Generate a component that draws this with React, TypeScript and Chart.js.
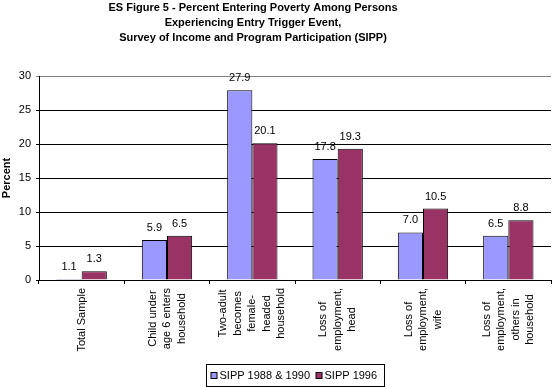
import { useEffect, useRef } from "react";
import { Chart, registerables } from "chart.js";

Chart.register(...registerables);

const titleLines = [
  "ES Figure 5 - Percent Entering Poverty Among Persons",
  "Experiencing Entry Trigger Event,",
  "Survey of Income and Program Participation (SIPP)",
];
const categories: string[][] = [
  ["Total Sample"],
  ["Child under", "age 6 enters", "household"],
  ["Two-adult", "becomes", "female-", "headed", "household"],
  ["Loss of", "employment,", "head"],
  ["Loss of", "employment,", "wife"],
  ["Loss of", "employment,", "others in", "household"],
];
const seriesNames = ["SIPP 1988 & 1990", "SIPP 1996"];
const sipp8890 = [0.15, 5.9, 27.9, 17.8, 7.0, 6.5];
const sipp1996 = [1.3, 6.5, 20.1, 19.3, 10.5, 8.8];
const labels8890 = ["1.1", "5.9", "27.9", "17.8", "7.0", "6.5"];
const labels1996 = ["1.3", "6.5", "20.1", "19.3", "10.5", "8.8"];
const yAxisTitle = "Percent";
const yMin = 0;
const yMax = 30;
const yStep = 5;

const FONT = '"Liberation Sans", Arial, sans-serif';
const colors = ["#9999FF", "#993366"];

const overlayPlugin = {
  id: "overlay",
  afterDraw(chart: any) {
    const ctx = chart.ctx;
    const area = chart.chartArea;
    ctx.save();
    ctx.fillStyle = "#000";
    // title
    ctx.font = `bold 11px ${FONT}`;
    ctx.textAlign = "center";
    ctx.textBaseline = "middle";
    titleLines.forEach((t, i) => ctx.fillText(t, 253, 8 + i * 15));

    // data labels
    ctx.font = `11px ${FONT}`;
    const allLabels = [labels8890, labels1996];
    chart.data.datasets.forEach((_: any, di: number) => {
      const meta = chart.getDatasetMeta(di);
      meta.data.forEach((el: any, i: number) => {
        ctx.fillText(allLabels[di][i], el.x, el.y - 12);
      });
    });

    // x category labels (rotated, centred)
    const xs = chart.scales.x;
    const lh = 14.5;
    categories.forEach((lines, i) => {
      const px = xs.getPixelForValue(i);
      const maxW = Math.max(...lines.map((l) => ctx.measureText(l).width));
      const cy = xs.top + 8 + maxW / 2;
      lines.forEach((l, j) => {
        const cx = px + (j - (lines.length - 1) / 2) * lh;
        ctx.save();
        ctx.translate(cx, cy);
        ctx.rotate(-Math.PI / 2);
        ctx.fillText(l, 0, 0);
        ctx.restore();
      });
    });

    // legend
    const w1 = ctx.measureText(seriesNames[0]).width;
    const w2 = ctx.measureText(seriesNames[1]).width;
    const total = 5 + 6 + 2 + w1 + 6 + 6 + 3 + w2 + 7;
    const lx = Math.round((area.left + area.right) / 2 - total / 2) + 0.5;
    const ly = 364.5;
    const lhgt = 22;
    ctx.strokeStyle = "#000";
    ctx.lineWidth = 1;
    ctx.strokeRect(lx, ly, Math.round(total), lhgt);
    const cyL = ly + lhgt / 2;
    let x = lx + 4.5;
    [0, 1].forEach((k) => {
      ctx.fillStyle = colors[k];
      ctx.fillRect(x, cyL - 3, 6, 6);
      ctx.strokeStyle = "#000";
      ctx.strokeRect(x, cyL - 3, 6, 6);
      x += 8.5;
      ctx.fillStyle = "#000";
      ctx.textAlign = "left";
      ctx.fillText(seriesNames[k], x, cyL);
      x += (k === 0 ? w1 : w2) + 6;
    });
    ctx.restore();
  },
};

export default function App() {
  const ref = useRef<HTMLCanvasElement>(null);
  useEffect(() => {
    if (!ref.current) return;
    const chart = new Chart(ref.current, {
      type: "bar",
      data: {
        labels: categories.map((c) => c.join(" ")),
        datasets: [
          {
            label: seriesNames[0],
            data: sipp8890,
            backgroundColor: colors[0],
            borderColor: "#000",
            borderWidth: 1,
            categoryPercentage: 0.59,
            barPercentage: 1,
          },
          {
            label: seriesNames[1],
            data: sipp1996,
            backgroundColor: colors[1],
            borderColor: "#000",
            borderWidth: 1,
            categoryPercentage: 0.59,
            barPercentage: 1,
          },
        ],
      },
      options: {
        animation: false,
        responsive: false,
        devicePixelRatio: 1,
        layout: { padding: { top: 76, left: 0, right: 1, bottom: 27 } },
        plugins: {
          legend: { display: false },
          title: { display: false },
          tooltip: { enabled: false },
        },
        scales: {
          x: {
            type: "category",
            afterFit: (s: any) => {
              s.height = 80;
            },
            ticks: { display: false },
            grid: {
              offset: true,
              drawOnChartArea: false,
              tickLength: 4,
              color: "#000",
            },
            border: { color: "#000" },
          },
          y: {
            min: yMin,
            max: yMax,
            afterFit: (s: any) => {
              s.width = 39;
            },
            ticks: {
              stepSize: yStep,
              color: "#000",
              font: { family: FONT, size: 11 },
              padding: 5,
            },
            grid: {
              color: (c: any) => (c.tick && c.tick.value === yMax ? "#808080" : "#000"),
              tickLength: 3,
            },
            border: { color: "#000" },
            title: {
              display: true,
              text: yAxisTitle,
              color: "#000",
              font: { family: FONT, size: 11, weight: "bold" },
              padding: 0,
            },
          },
        },
      },
      plugins: [overlayPlugin],
    });
    return () => chart.destroy();
  }, []);
  return (
    <div style={{ position: "absolute", left: 0, top: 0, width: 552, height: 387, background: "#fff" }}>
      <canvas ref={ref} width={552} height={387} />
    </div>
  );
}
